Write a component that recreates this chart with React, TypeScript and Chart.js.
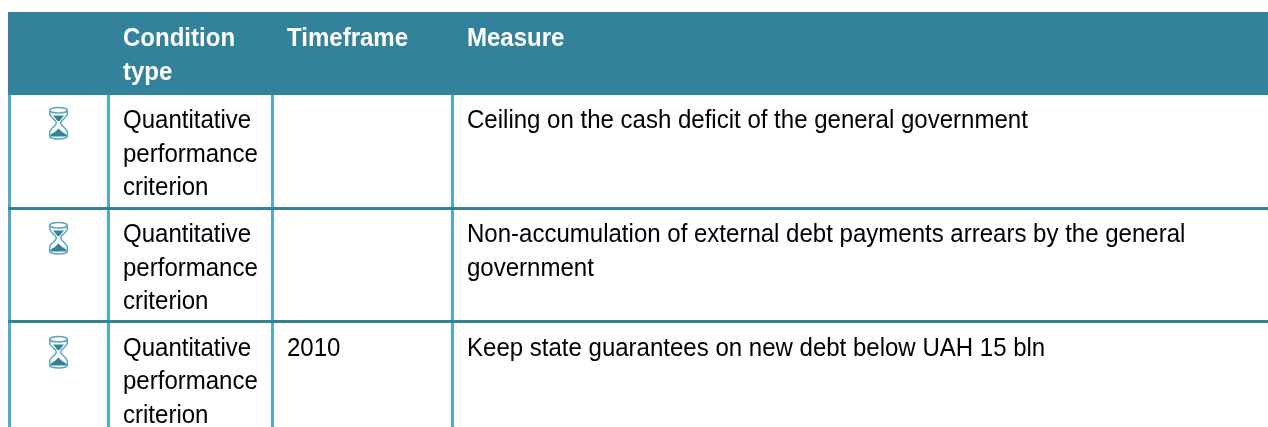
import React, { useEffect, useRef } from "react";
import { Chart, registerables } from "chart.js";

Chart.register(...registerables);

// Table content
const headerLabels: string[][] = [["Condition", "type"], ["Timeframe"], ["Measure"]];
const conditionTypes: string[][] = [
  ["Quantitative", "performance", "criterion"],
  ["Quantitative", "performance", "criterion"],
  ["Quantitative", "performance", "criterion"],
];
const timeframes: string[] = ["", "", "2010"];
const measures: string[][] = [
  ["Ceiling on the cash deficit of the general government"],
  ["Non-accumulation of external debt payments arrears by the general", "government"],
  ["Keep state guarantees on new debt below UAH 15 bln"],
];

// Layout of the table (not data)
const W = 1268;
const H = 427;
const HEADER_TOP = 12;
const HEADER_BOTTOM = 95;
const COLUMN_X = [123, 287, 467];
const ROW_BASELINES = [128, 242, 355.5];
const ICON_TOPS = [107, 222, 336];
const V_RULES = [9.5, 108.5, 272.5, 452.5];
const H_RULES = [208.5, 321.5];
const LINE_H = 33.5;
const DARK = "#33829c";
const LIGHT = "#4fadc5";
const STRETCH = 0.942;

function hourglass(ctx: CanvasRenderingContext2D, cx: number, top: number) {
  ctx.save();
  ctx.translate(cx, top);
  ctx.strokeStyle = "#5aa6bd";
  ctx.lineWidth = 1.5;
  ctx.beginPath();
  ctx.ellipse(0, 3.2, 8.8, 2.8, 0, 0, Math.PI * 2);
  ctx.stroke();
  ctx.beginPath();
  ctx.ellipse(0, 29.6, 8.8, 2.4, 0, 0, Math.PI * 2);
  ctx.stroke();
  ctx.beginPath();
  ctx.moveTo(-8.8, 3.5);
  ctx.lineTo(-8.8, 6.5);
  ctx.bezierCurveTo(-8.8, 10.5, -2.2, 13, -2.2, 16);
  ctx.bezierCurveTo(-2.2, 19, -8.8, 21.5, -8.8, 25.5);
  ctx.lineTo(-8.8, 29.5);
  ctx.moveTo(8.8, 3.5);
  ctx.lineTo(8.8, 6.5);
  ctx.bezierCurveTo(8.8, 10.5, 2.2, 13, 2.2, 16);
  ctx.bezierCurveTo(2.2, 19, 8.8, 21.5, 8.8, 25.5);
  ctx.lineTo(8.8, 29.5);
  ctx.stroke();
  ctx.fillStyle = DARK;
  ctx.beginPath();
  ctx.moveTo(-5.5, 8.5);
  ctx.lineTo(5.5, 8.5);
  ctx.lineTo(1, 14);
  ctx.lineTo(-1, 14);
  ctx.closePath();
  ctx.fill();
  ctx.beginPath();
  ctx.moveTo(-7.5, 29.5);
  ctx.lineTo(-7, 27);
  ctx.quadraticCurveTo(-3, 25, 0, 21.5);
  ctx.quadraticCurveTo(3, 25, 7, 27);
  ctx.lineTo(7.5, 29.5);
  ctx.closePath();
  ctx.fill();
  ctx.restore();
}

function put(ctx: CanvasRenderingContext2D, t: string, x: number, y: number) {
  ctx.save();
  ctx.translate(x, y);
  ctx.scale(STRETCH, 1);
  ctx.fillText(t, 0, 0);
  ctx.restore();
}

const tablePlugin = {
  id: "tablePlugin",
  beforeDatasetsDraw(chart: any) {
    const { ctx, scales } = chart;
    const x = scales.x;
    const y = scales.y;
    ctx.save();
    ctx.fillStyle = DARK;
    ctx.fillRect(x.getPixelForValue(8), y.getPixelForValue(HEADER_TOP), x.getPixelForValue(W) - x.getPixelForValue(8), y.getPixelForValue(HEADER_BOTTOM) - y.getPixelForValue(HEADER_TOP));
    ctx.restore();
  },
  afterDatasetsDraw(chart: any) {
    const { ctx, scales } = chart;
    const x = scales.x;
    const y = scales.y;
    ctx.save();
    ctx.textBaseline = "alphabetic";
    ctx.textAlign = "left";

    ctx.fillStyle = "#ffffff";
    ctx.font = "bold 25.5px 'Liberation Sans', Arial, sans-serif";
    headerLabels.forEach((lines, c) =>
      lines.forEach((t, i) => put(ctx, t, x.getPixelForValue(COLUMN_X[c]), y.getPixelForValue(46 + i * 34)))
    );

    ctx.fillStyle = "#000000";
    ctx.font = "25.5px 'Liberation Sans', Arial, sans-serif";
    ROW_BASELINES.forEach((base, r) => {
      conditionTypes[r].forEach((t, i) => put(ctx, t, x.getPixelForValue(COLUMN_X[0]), y.getPixelForValue(base + i * LINE_H)));
      put(ctx, timeframes[r], x.getPixelForValue(COLUMN_X[1]), y.getPixelForValue(base));
      measures[r].forEach((t, i) => put(ctx, t, x.getPixelForValue(COLUMN_X[2]), y.getPixelForValue(base + i * LINE_H)));
      hourglass(ctx, x.getPixelForValue(58.5), y.getPixelForValue(ICON_TOPS[r]));
    });
    ctx.restore();
  },
};

export default function App() {
  const ref = useRef<HTMLCanvasElement>(null);
  useEffect(() => {
    if (!ref.current) return;
    const vDatasets = V_RULES.map((vx) => ({
      data: [{ x: vx, y: HEADER_BOTTOM }, { x: vx, y: H }],
      borderColor: LIGHT,
      borderWidth: 3,
      showLine: true,
      pointRadius: 0,
      order: 2,
    }));
    const hDatasets = H_RULES.map((hy) => ({
      data: [{ x: 8, y: hy }, { x: W, y: hy }],
      borderColor: DARK,
      borderWidth: 3,
      showLine: true,
      pointRadius: 0,
      order: 1,
    }));
    const chart = new Chart(ref.current, {
      type: "scatter",
      data: { datasets: [...vDatasets, ...hDatasets] },
      options: {
        animation: false,
        responsive: false,
        layout: { padding: 0 },
        plugins: { legend: { display: false }, tooltip: { enabled: false }, title: { display: false } },
        scales: {
          x: { type: "linear", display: false, min: 0, max: W },
          y: { type: "linear", display: false, min: 0, max: H, reverse: true },
        },
      },
      plugins: [tablePlugin],
    } as any);
    return () => chart.destroy();
  }, []);
  return (
    <canvas
      ref={ref}
      width={W}
      height={H}
      style={{ position: "fixed", left: 0, top: 0, display: "block", width: W, height: H, background: "#fff" }}
    />
  );
}
